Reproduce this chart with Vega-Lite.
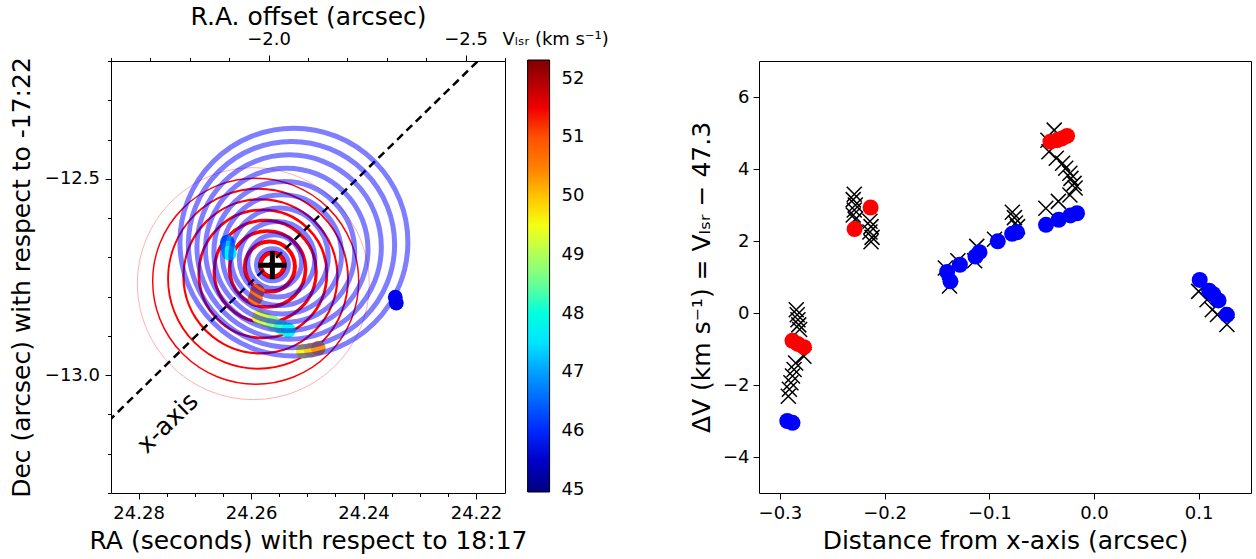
{
  "$schema": "https://vega.github.io/schema/vega-lite/v6.json",
  "padding": {"left": 8, "top": 3, "right": 0, "bottom": 0},
  "autosize": {"type": "pad"},
  "config": {
    "font": "DejaVu Sans",
    "view": {"stroke": "black", "strokeWidth": 1},
    "axis": {"domain": false, "grid": false, "tickColor": "black", "labelColor": "black", "titleColor": "black", "labelFont": "DejaVu Sans", "titleFont": "DejaVu Sans", "labelFontSize": 18, "titleFontSize": 25, "titleFontWeight": "normal", "tickWidth": 1, "labelOverlap": false, "labelFlush": false, "labelBound": false, "tickCount": 100}
  },
  "datasets": {
    "redrings": [
      {"i": 0, "ra": 24.2562, "dec": -12.719, "r": 0.0305},
      {"i": 1, "ra": 24.25665, "dec": -12.7234, "r": 0.0635},
      {"i": 2, "ra": 24.25707, "dec": -12.7296, "r": 0.0964},
      {"i": 3, "ra": 24.25749, "dec": -12.7358, "r": 0.1294},
      {"i": 4, "ra": 24.25791, "dec": -12.742, "r": 0.1624},
      {"i": 5, "ra": 24.25833, "dec": -12.7483, "r": 0.1954},
      {"i": 6, "ra": 24.25876, "dec": -12.7545, "r": 0.2284},
      {"i": 7, "ra": 24.25918, "dec": -12.7607, "r": 0.2614},
      {"i": 8, "ra": 24.2596, "dec": -12.7669, "r": 0.2944}
    ],
    "bluerings": [
      {"ra": 24.2562, "dec": -12.719, "r": 0.0406},
      {"ra": 24.2558, "dec": -12.711, "r": 0.0683},
      {"ra": 24.25537, "dec": -12.7047, "r": 0.0959},
      {"ra": 24.25494, "dec": -12.6986, "r": 0.1236},
      {"ra": 24.25452, "dec": -12.6923, "r": 0.1513},
      {"ra": 24.25409, "dec": -12.6861, "r": 0.1787},
      {"ra": 24.25366, "dec": -12.6798, "r": 0.2063},
      {"ra": 24.25323, "dec": -12.6737, "r": 0.234},
      {"ra": 24.25281, "dec": -12.6673, "r": 0.2617},
      {"ra": 24.25238, "dec": -12.6612, "r": 0.2893}
    ],
    "spots": [
      {"ra": 24.26423, "dec": -12.6612, "v": 46.8},
      {"ra": 24.26405, "dec": -12.6765, "v": 47.2},
      {"ra": 24.26387, "dec": -12.6892, "v": 47.6},
      {"ra": 24.25889, "dec": -12.786, "v": 50.9},
      {"ra": 24.25925, "dec": -12.8038, "v": 50.6},
      {"ra": 24.25854, "dec": -12.8522, "v": 49.4},
      {"ra": 24.25729, "dec": -12.8598, "v": 49.2},
      {"ra": 24.25605, "dec": -12.8675, "v": 48.8},
      {"ra": 24.25462, "dec": -12.8776, "v": 48.3},
      {"ra": 24.25338, "dec": -12.8853, "v": 48.0},
      {"ra": 24.25071, "dec": -12.9388, "v": 49.6},
      {"ra": 24.24929, "dec": -12.9362, "v": 49.9},
      {"ra": 24.24804, "dec": -12.9311, "v": 50.3},
      {"ra": 24.23435, "dec": -12.8013, "v": 45.8},
      {"ra": 24.23417, "dec": -12.8165, "v": 45.7}
    ],
    "xline": [
      {"ra": 24.287, "dec": -13.14},
      {"ra": 24.2175, "dec": -12.17}
    ],
    "label": [
      {"ra": 24.27484, "dec": -13.1215, "txt": "x-axis"}
    ],
    "cross": [
      {"off": -2.0096, "dec": -12.7198}
    ],
    "xs": [
      {"d": -0.2844, "dv": 0.09}, {"d": -0.2835, "dv": -0.05}, {"d": -0.2828, "dv": -0.19}, {"d": -0.282, "dv": -0.33}, {"d": -0.2812, "dv": -0.46},
      {"d": -0.2771, "dv": -1.2}, {"d": -0.285, "dv": -1.39}, {"d": -0.2865, "dv": -1.57}, {"d": -0.288, "dv": -1.75}, {"d": -0.2895, "dv": -1.94}, {"d": -0.291, "dv": -2.12}, {"d": -0.292, "dv": -2.31},
      {"d": -0.229, "dv": 3.3}, {"d": -0.23, "dv": 3.15}, {"d": -0.228, "dv": 3.0}, {"d": -0.229, "dv": 2.86}, {"d": -0.23, "dv": 2.72}, {"d": -0.228, "dv": 2.6},
      {"d": -0.214, "dv": 2.55}, {"d": -0.213, "dv": 2.4}, {"d": -0.214, "dv": 2.25}, {"d": -0.212, "dv": 2.1}, {"d": -0.213, "dv": 1.98},
      {"d": -0.142, "dv": 1.25}, {"d": -0.138, "dv": 0.75}, {"d": -0.13, "dv": 1.45}, {"d": -0.112, "dv": 1.85}, {"d": -0.114, "dv": 1.45}, {"d": -0.095, "dv": 2.05},
      {"d": -0.078, "dv": 2.8}, {"d": -0.076, "dv": 2.65}, {"d": -0.075, "dv": 2.5}, {"d": -0.073, "dv": 2.4},
      {"d": -0.038, "dv": 5.08}, {"d": -0.044, "dv": 4.8}, {"d": -0.043, "dv": 4.48}, {"d": -0.036, "dv": 4.3}, {"d": -0.03, "dv": 4.16}, {"d": -0.027, "dv": 4.02},
      {"d": -0.023, "dv": 3.88}, {"d": -0.022, "dv": 3.74}, {"d": -0.019, "dv": 3.6}, {"d": -0.018, "dv": 3.47}, {"d": -0.023, "dv": 3.28}, {"d": -0.034, "dv": 3.1}, {"d": -0.046, "dv": 2.91},
      {"d": 0.1, "dv": 0.6}, {"d": 0.108, "dv": 0.37}, {"d": 0.113, "dv": 0.09}, {"d": 0.118, "dv": -0.04}, {"d": 0.127, "dv": -0.32}
    ],
    "dots": [
      {"d": -0.288, "dv": -0.77, "side": "red"}, {"d": -0.283, "dv": -0.86, "side": "red"}, {"d": -0.277, "dv": -0.95, "side": "red"},
      {"d": -0.2287, "dv": 2.33, "side": "red"}, {"d": -0.2134, "dv": 2.93, "side": "red"},
      {"d": -0.0416, "dv": 4.76, "side": "red"}, {"d": -0.0351, "dv": 4.8, "side": "red"}, {"d": -0.0305, "dv": 4.85, "side": "red"}, {"d": -0.0257, "dv": 4.92, "side": "red"},
      {"d": -0.293, "dv": -3.0, "side": "blue"}, {"d": -0.288, "dv": -3.05, "side": "blue"},
      {"d": -0.1403, "dv": 1.14, "side": "blue"}, {"d": -0.1371, "dv": 0.88, "side": "blue"}, {"d": -0.1281, "dv": 1.34, "side": "blue"}, {"d": -0.1132, "dv": 1.57, "side": "blue"},
      {"d": -0.1094, "dv": 1.69, "side": "blue"}, {"d": -0.0919, "dv": 1.99, "side": "blue"}, {"d": -0.0782, "dv": 2.2, "side": "blue"}, {"d": -0.0735, "dv": 2.24, "side": "blue"},
      {"d": -0.0458, "dv": 2.45, "side": "blue"}, {"d": -0.0337, "dv": 2.59, "side": "blue"}, {"d": -0.0225, "dv": 2.71, "side": "blue"}, {"d": -0.0162, "dv": 2.77, "side": "blue"},
      {"d": 0.101, "dv": 0.92, "side": "blue"}, {"d": 0.11, "dv": 0.62, "side": "blue"}, {"d": 0.114, "dv": 0.52, "side": "blue"}, {"d": 0.119, "dv": 0.35, "side": "blue"}, {"d": 0.127, "dv": -0.05, "side": "blue"}
    ]
  },
  "spacing": 77,
  "resolve": {"scale": {"color": "independent"}, "legend": {"color": "independent"}},
  "hconcat": [
    {
      "width": 394,
      "height": 432,
      "layer": [
        {
          "layer": [
            {
              "data": {"name": "redrings"},
              "mark": {"type": "point", "shape": "circle", "filled": false, "color": "#ff0000"},
              "encoding": {
                "x": {"field": "ra", "type": "quantitative", "scale": {"domain": [24.21484, 24.28491], "reverse": true, "nice": false, "zero": false},
                  "axis": {"title": "RA (seconds) with respect to 18:17", "orient": "bottom",
                    "values": [24.22, 24.225, 24.23, 24.235, 24.24, 24.245, 24.25, 24.255, 24.26, 24.265, 24.27, 24.275, 24.28],
                    "labelExpr": "abs(datum.value*50 - round(datum.value*50)) < 0.01 ? format(datum.value, '.2f') : ''",
                    "tickSize": {"condition": {"test": "abs(datum.value*50 - round(datum.value*50)) < 0.01", "value": 6}, "value": 3.5},
                    "tickCount": 100, "labelPadding": 5, "titlePadding": 6}},
                "y": {"field": "dec", "type": "quantitative", "scale": {"domain": [-13.3, -12.2], "nice": false, "zero": false},
                  "axis": {"title": "Dec (arcsec) with respect to -17:22",
                    "values": [-13.3, -13.2, -13.1, -13.0, -12.9, -12.8, -12.7, -12.6, -12.5, -12.4, -12.3, -12.2],
                    "labelExpr": "abs(datum.value*2 - round(datum.value*2)) < 0.01 ? replace(format(datum.value, '.1f'), '-', '−') : ''",
                    "tickSize": {"condition": {"test": "abs(datum.value*2 - round(datum.value*2)) < 0.01", "value": 6}, "value": 3.5},
                    "tickCount": 100, "labelPadding": 5.5, "titlePadding": 10}},
                "size": {"field": "r", "type": "quantitative", "scale": {"type": "pow", "exponent": 2, "domain": [0, 1], "range": [0, 620944]}, "legend": null},
                "strokeWidth": {"field": "i", "type": "quantitative", "scale": {"domain": [0, 8], "range": [4.5, 1.0]}, "legend": null},
                "opacity": {"field": "i", "type": "quantitative", "scale": {"type": "threshold", "domain": [7.5], "range": [1, 0.3]}, "legend": null}
              }
            },
            {
              "data": {"name": "spots"},
              "mark": {"type": "point", "shape": "circle", "filled": true, "size": 220, "opacity": 1, "strokeWidth": 0},
              "encoding": {
                "x": {"field": "ra", "type": "quantitative", "scale": {"domain": [24.21484, 24.28491], "reverse": true, "nice": false, "zero": false}},
                "y": {"field": "dec", "type": "quantitative", "scale": {"domain": [-13.3, -12.2], "nice": false, "zero": false}},
                "color": {"field": "v", "type": "quantitative",
                  "scale": {"domain": [44.96, 45.88, 46.8, 47.72, 48.64, 49.56, 50.48, 51.4, 52.32], "range": ["#000080", "#0000ff", "#0080ff", "#00ffff", "#80ff80", "#ffff00", "#ff8000", "#ff0000", "#800000"]},
                  "legend": {"orient": "none", "legendX": 391.6, "legendY": -30, "direction": "vertical", "gradientLength": 432, "gradientThickness": 22,
                    "title": "Vₗₛᵣ (km s⁻¹)", "titleFontSize": 18, "titleFontWeight": "normal", "titleFont": "DejaVu Sans", "titleColor": "black", "titlePadding": 11, "titleAnchor": "middle",
                    "labelFontSize": 18, "labelFont": "DejaVu Sans", "labelColor": "black", "labelOffset": 12, "labelOverlap": false,
                    "values": [45, 46, 47, 48, 49, 50, 51, 52], "gradientStrokeColor": "black", "gradientStrokeWidth": 1, "padding": 0}}
              }
            },
            {
              "data": {"name": "xline"},
              "mark": {"type": "line", "color": "black", "strokeWidth": 2.5, "strokeDash": [8, 5], "clip": true},
              "encoding": {
                "x": {"field": "ra", "type": "quantitative", "scale": {"domain": [24.21484, 24.28491], "reverse": true, "nice": false, "zero": false}},
                "y": {"field": "dec", "type": "quantitative", "scale": {"domain": [-13.3, -12.2], "nice": false, "zero": false}}
              }
            },
            {
              "data": {"name": "bluerings"},
              "mark": {"type": "point", "shape": "circle", "filled": false, "color": "#0000ff", "strokeWidth": 5, "opacity": 0.5},
              "encoding": {
                "x": {"field": "ra", "type": "quantitative", "scale": {"domain": [24.21484, 24.28491], "reverse": true, "nice": false, "zero": false}},
                "y": {"field": "dec", "type": "quantitative", "scale": {"domain": [-13.3, -12.2], "nice": false, "zero": false}},
                "size": {"field": "r", "type": "quantitative", "scale": {"type": "pow", "exponent": 2, "domain": [0, 1], "range": [0, 620944]}, "legend": null}
              }
            },
            {
              "data": {"name": "label"},
              "mark": {"type": "text", "angle": 315.8, "fontSize": 25, "align": "center", "baseline": "middle", "color": "black", "font": "DejaVu Sans"},
              "encoding": {
                "x": {"field": "ra", "type": "quantitative", "scale": {"domain": [24.21484, 24.28491], "reverse": true, "nice": false, "zero": false}},
                "y": {"field": "dec", "type": "quantitative", "scale": {"domain": [-13.3, -12.2], "nice": false, "zero": false}},
                "text": {"field": "txt"}
              }
            }
          ]
        },
        {
          "data": {"name": "cross"},
          "mark": {"type": "point", "shape": "M-1,0H1M0,-1V1", "filled": false, "size": 784, "strokeWidth": 5, "color": "black", "opacity": 1},
          "encoding": {
            "x": {"field": "off", "type": "quantitative", "scale": {"domain": [-2.6, -1.6], "reverse": true, "nice": false, "zero": false},
              "axis": {"title": "R.A. offset (arcsec)", "orient": "top",
                "values": [-2.6, -2.5, -2.4, -2.3, -2.2, -2.1, -2.0, -1.9, -1.8, -1.7, -1.6],
                "labelExpr": "abs(datum.value*2 - round(datum.value*2)) < 0.01 ? replace(format(datum.value, '.1f'), '-', '−') : ''",
                "tickSize": {"condition": {"test": "abs(datum.value*2 - round(datum.value*2)) < 0.01", "value": 6}, "value": 3.5},
                "tickCount": 100, "labelPadding": 6.5, "titlePadding": 1.5}},
            "y": {"field": "dec", "type": "quantitative", "scale": {"domain": [-13.3, -12.2], "nice": false, "zero": false},
              "axis": {"title": "Dec (arcsec) with respect to -17:22",
                "values": [-13.3, -13.2, -13.1, -13.0, -12.9, -12.8, -12.7, -12.6, -12.5, -12.4, -12.3, -12.2],
                "labelExpr": "abs(datum.value*2 - round(datum.value*2)) < 0.01 ? replace(format(datum.value, '.1f'), '-', '−') : ''",
                "tickSize": {"condition": {"test": "abs(datum.value*2 - round(datum.value*2)) < 0.01", "value": 6}, "value": 3.5},
                "tickCount": 100, "labelPadding": 5.5, "titlePadding": 10}}
          }
        }
      ],
      "resolve": {"scale": {"x": "independent"}, "axis": {"x": "independent"}}
    },
    {
      "width": 492,
      "height": 432,
      "layer": [
        {
          "data": {"name": "xs"},
          "mark": {"type": "point", "shape": "M-1,-1L1,1M-1,1L1,-1", "filled": false, "size": 225, "strokeWidth": 1.5, "color": "black", "opacity": 1},
          "encoding": {
            "x": {"field": "d", "type": "quantitative", "scale": {"domain": [-0.32, 0.15], "nice": false, "zero": false},
              "axis": {"title": "Distance from x-axis (arcsec)", "values": [-0.3, -0.2, -0.1, 0, 0.1],
                "labelExpr": "replace(format(datum.value, '.1f'), '-', '−')", "tickSize": 6, "labelPadding": 5, "titlePadding": 6}},
            "y": {"field": "dv", "type": "quantitative", "scale": {"domain": [-5, 7], "nice": false, "zero": false},
              "axis": {"title": "ΔV (km s⁻¹) = Vₗₛᵣ − 47.3", "values": [-4, -2, 0, 2, 4, 6],
                "labelExpr": "replace(format(datum.value, 'd'), '-', '−')", "tickSize": 6, "labelPadding": 4, "titlePadding": 8}}
          }
        },
        {
          "data": {"name": "dots"},
          "mark": {"type": "point", "shape": "circle", "filled": true, "size": 256, "opacity": 1, "strokeWidth": 0},
          "encoding": {
            "x": {"field": "d", "type": "quantitative", "scale": {"domain": [-0.32, 0.15], "nice": false, "zero": false}},
            "y": {"field": "dv", "type": "quantitative", "scale": {"domain": [-5, 7], "nice": false, "zero": false}},
            "color": {"field": "side", "type": "nominal", "scale": {"domain": ["red", "blue"], "range": ["#ff0000", "#0000ff"]}, "legend": null}
          }
        }
      ]
    }
  ]
}
